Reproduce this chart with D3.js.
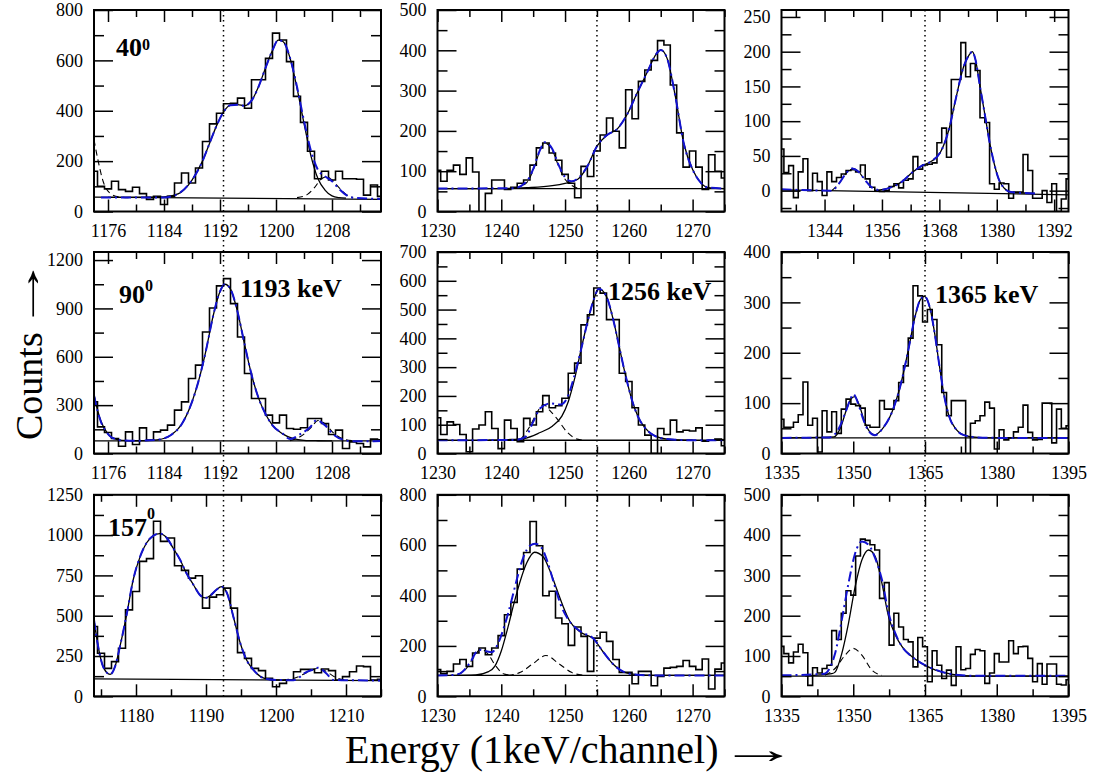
<!DOCTYPE html>
<html>
<head>
<meta charset="utf-8">
<script src="https://cdn.jsdelivr.net/npm/d3@7"></script>
<style>
  body { margin: 0; background: #fff; }
  text { font-family: "Liberation Serif", "Times New Roman", serif; }
</style>
</head>
<body>
<svg id="chart" width="1096" height="773"></svg>
<script>
// ---- counts per channel (first channel given by the panel's start) ----
let h40_1193 = [160,100,90,120,87,80,96,71,48,60, 28,60,113,153,113,173,278,348,390,428,
                430,450,410,523,523,608,708,681,595,457, 354,239,130,160,125,160,130,130,128,65, 105,60];
let h40_1256 = [102,75,102,115,92,133,98,-10,45,78, 78,55,60,70,78,115,158,170,145,127,
                92,70,34,112,87,150,190,232,199,158, 302,230,323,351,375,424,413,314,195,110, 150,110,55,141,100,83];
let h40_1365 = [60,26,36,-10,27,46,0,25,13,-7, 27,13,19,24,29,30,27,37,17,5,
                0,-1,0,6,10,4,15,17,49,31, 37,38,40,69,90,48,160,160,213,164,
                183,173,105,98,10,2,11,10,-11,-2, -2,52,29,-11,-11,0,-17,10,-30,-12, 17];
let h90_1193 = [320,165,130,93,45,134,56,159,83,134, 145,176,269,320,465,548,754,903,1040,1085,
                930,723,496,341,341,238,190,238,155,150, 160,217,217,186,118,145,31,72,62,41, 89,85];
let h90_1256 = [124,66,110,101,66,6,85,99,145,87, 17,116,87,41,122,99,145,201,159,166,
                192,279,314,447,482,575,557,465,465,279, 250,159,99,64,0,87,66,116,75,81, 78,89,43,46,50,27];
let h90_1365 = [68,52,52,62,77,142,56,70,3,85, 43,83,40,88,108,98,95,90,56,52,
                52,105,88,88,105,141,174,229,333,313, 261,286,266,216,121,75,105,105,105,-5,
                60,65,75,102,90,9,47,27,31,43, 52,96,42,27,28,100,100,21,88,50, 55];
let h157_1193 = [433,267,173,215,298,536,650,837,854,1086, 961,982,810,781,733,748,547,615,630,671,
                 547,271,235,173,159,111,59,80,101,152, 167,167,146,169,159,101,122,152,188,184, 101,105];
let h157_1256 = [106,90,99,128,146,119,172,192,165,192, 241,324,373,505,571,694,598,399,417,311,
                 288,202,275,238,99,231,254,218,146,95, 95,50,99,99,42,79,112,115,119,142, 119,106,148,29,108,132];
let h157_1365 = [124,106,83,110,129,108,27,71,58,69, 77,163,141,206,262,251,348,390,387,376,
                 363,243,282,127,206,172,141,135,73,146, 123,36,113,77,44,65,27,123,66,69,
                 104,116,113,32,58,106,85,85,138,106, 123,124,94,36,81,30,80,80,30,28, 41];

// ---- fitted curves: [channel, counts] ----
let f40_1193 = [[1176,56],[1184,58],[1186,70],[1188,125],[1189.5,200],[1190.5,270],[1191.5,340],[1192.5,395],[1193.5,422],
                [1194.5,424],[1195.5,420],[1196.5,440],[1197.5,495],[1198.5,570],[1199.5,640],[1200.3,680],[1201,675],
                [1202,610],[1203,490],[1204,350],[1205,220],[1206,130],[1207,85],[1208,62],[1209,55],[1210,53]];
let b40_1193 = [[1175,56],[1184,56],[1186,70],[1188,125],[1189.5,200],[1190.5,270],[1191.5,340],[1192.5,395],[1193.5,422],
                [1194.5,424],[1195.5,420],[1196.5,440],[1197.5,495],[1198.5,570],[1199.5,640],[1200.3,680],[1201,675],
                [1202,610],[1203,495],[1204,360],[1205,240],[1206,165],[1207,140],[1208,120],[1209,90],[1210,66],[1211,55],[1215,50]];
let d40_1193 = [[[1174,285],[1174.6,200],[1175.3,120],[1176.2,75],[1177.5,58],[1179,55]],
                [[1203,55],[1204.5,68],[1205.5,95],[1206.5,130],[1207.2,138],[1208,125],[1209,95],[1210,68],[1211,55]]];
let bg40_1193 = [[1174,57],[1215,48]];

let f40_1256 = [[1230,57],[1240,57],[1244,59],[1248,64],[1250,70],[1252,80],[1253.5,112],[1255,162],[1256.6,190],[1258.2,205],
                [1259.7,240],[1261.3,294],[1262.8,343],[1264.4,393],[1265,401],[1266,380],[1267.3,285],[1268.6,170],[1270,104],
                [1271.3,71],[1272.3,60],[1275,57]];
let b40_1256 = [[1230,57],[1242,58],[1244,75],[1245,105],[1246,150],[1246.8,172],[1248,155],[1249,115],[1250,85],[1251,75],
                [1252,82],[1253.5,112],[1255,162],[1256.6,190],[1258.2,205],[1259.7,240],[1261.3,294],[1262.8,343],[1264.4,393],
                [1265,401],[1266,380],[1267.3,285],[1268.6,170],[1270,104],[1271.3,71],[1272.3,60],[1275,57]];
let d40_1256 = [[[1242,57],[1244,72],[1245,102],[1246,148],[1246.8,170],[1248,152],[1249,112],[1250,80],[1252,58]]];
let bg40_1256 = [[1230,57],[1275,57]];

let f40_1365 = [[1354.6,0],[1358,5],[1360.2,13],[1362.3,26],[1364.4,36],[1366.5,43],[1368.2,55],[1370,88],[1371.4,131],
                [1373.1,179],[1374.2,195],[1374.9,200],[1375.5,190],[1376.5,150],[1377.5,110],[1378.5,70],[1379.5,38],
                [1380.5,15],[1381.5,4],[1383,-2],[1388,-4]];
let b40_1365 = [[1335,2],[1345.5,0],[1347,10],[1348.5,25],[1349.8,32],[1351,28],[1352.5,15],[1354,4],[1355.5,1],[1358,5],
                [1360.2,13],[1362.3,26],[1364.4,36],[1366.5,43],[1368.2,55],[1370,88],[1371.4,131],[1373.1,179],[1374.2,195],
                [1374.9,200],[1375.5,190],[1376.5,150],[1377.5,110],[1378.5,70],[1379.5,38],[1380.5,15],[1381.5,4],[1383,-2],[1388,-4]];
let d40_1365 = [[[1345.5,0],[1347,10],[1348.5,25],[1349.8,32],[1351,28],[1352.5,15],[1354,3]]];
let bg40_1365 = [[1335,1],[1395,-6]];

let f90_1193 = [[1174,365],[1174.5,270],[1175,200],[1175.7,140],[1176.5,100],[1178,82],[1180,79],[1183,85],[1185,115],
                [1186.5,180],[1188,320],[1189,460],[1190,640],[1191,850],[1192,1005],[1192.7,1050],[1193.5,1020],[1194.5,880],
                [1195.5,680],[1196.5,490],[1197.5,345],[1198.5,245],[1199.5,175],[1201,120],[1202.5,92],[1204,82],[1206,79],[1208,78]];
let b90_1193 = [[1174,360],[1174.5,265],[1175,195],[1175.7,138],[1176.5,100],[1178,82],[1180,79],[1183,85],[1185,115],
                [1186.5,180],[1188,320],[1189,460],[1190,640],[1191,850],[1192,1005],[1192.7,1050],[1193.5,1020],[1194.5,880],
                [1195.5,680],[1196.5,490],[1197.5,345],[1198.5,245],[1199.5,175],[1201,122],[1202,90],[1203.4,118],[1204.9,165],
                [1205.8,207],[1207,175],[1208.2,118],[1209.6,85],[1211,76],[1215,77]];
let d90_1193 = [[[1202,80],[1203.5,105],[1205,160],[1206,205],[1207,185],[1208.2,128],[1209.6,90],[1211,79]]];
let bg90_1193 = [[1174,78],[1215,78]];

let f90_1256 = [[1238,46],[1241,48],[1243.5,52],[1246,72],[1248,95],[1249.5,130],[1250.5,180],[1251.5,260],[1252.5,360],
                [1253.5,455],[1254.5,535],[1255.3,572],[1256.5,545],[1257.5,470],[1258.5,370],[1259.5,270],[1260.5,185],
                [1261.5,125],[1262.5,90],[1264,62],[1266,50],[1270,46]];
let b90_1256 = [[1230,46],[1242,47],[1243.8,58],[1245,110],[1246.1,157],[1247.7,174],[1249.3,170],[1250.3,192],[1251.4,265],
                [1252.5,360],[1253.5,455],[1254.5,535],[1255.3,572],[1256.5,545],[1257.5,470],[1258.5,370],[1259.5,270],
                [1260.5,185],[1261.5,125],[1262.5,90],[1264,62],[1266,50],[1270,46],[1275,46]];
let d90_1256 = [[[1243,48],[1244.5,95],[1245.8,150],[1246.6,170],[1247.6,150],[1248.7,122],[1250.3,75],[1251.9,50],[1253,46]]];
let bg90_1256 = [[1230,46],[1275,46]];

let f90_1365 = [[1335,31],[1346,33],[1347.5,55],[1348.5,85],[1349.5,108],[1350.3,113],[1351.3,95],[1352.3,65],[1353.3,45],
                [1354.5,37],[1356,48],[1358,80],[1360,140],[1361.5,205],[1363,275],[1364,305],[1364.9,312],[1366,290],
                [1367,240],[1368,175],[1369,115],[1370,75],[1371.5,48],[1373,37],[1376,32],[1380,31],[1395,31]];
let b90_1365 = [[1335,31],[1345,32],[1347,50],[1348.5,85],[1349.5,110],[1350,118],[1351,100],[1352,70],[1353,48],
                [1354.5,36],[1356,48],[1358,80],[1360,140],[1361.5,205],[1363,275],[1364,305],[1364.9,312],[1366,290],
                [1367,240],[1368,175],[1369,115],[1370,75],[1371.5,48],[1373,37],[1376,32],[1380,31],[1395,31]];
let d90_1365 = [];
let bg90_1365 = [[1335,31],[1395,31]];

let f157_1193 = [[1174,474],[1174.6,308],[1175.3,184],[1176.3,136],[1177,184],[1177.7,308],[1178.7,515],[1179.6,723],
                 [1180.6,868],[1181.5,951],[1182.5,997],[1183.4,1009],[1184.4,982],[1185.3,920],[1186.3,847],[1187.2,764],
                 [1188.2,692],[1189.1,630],[1189.9,610],[1190.6,625],[1191.5,661],[1192.2,680],[1193,640],[1193.9,495],
                 [1194.9,329],[1195.8,225],[1196.8,163],[1197.7,125],[1198.7,107],[1200.1,101],[1202,100]];
let b157_1193 = [[1174,474],[1174.6,308],[1175.3,184],[1176.3,136],[1177,184],[1177.7,308],[1178.7,515],[1179.6,723],
                 [1180.6,868],[1181.5,951],[1182.5,997],[1183.4,1009],[1184.4,982],[1185.3,920],[1186.3,847],[1187.2,764],
                 [1188.2,692],[1189.1,630],[1189.9,610],[1190.6,625],[1191.5,661],[1192.2,680],[1193,640],[1193.9,495],
                 [1194.9,329],[1195.8,225],[1196.8,163],[1197.7,125],[1198.7,107],[1200.1,101],[1202.5,100],[1204.4,152],
                 [1205.3,165],[1206,177],[1207.2,142],[1208.2,101],[1210,100],[1215,97]];
let d157_1193 = [[[1201,100],[1203,118],[1204.5,150],[1205.8,172],[1207,158],[1208.5,118],[1210,100]]];
let bg157_1193 = [[1174,108],[1215,97]];

let f157_1256 = [[1232,83],[1236,85],[1238,98],[1239,120],[1240,180],[1241,270],[1242,370],[1243,460],[1244,530],
                 [1245.2,572],[1246.6,553],[1247.6,500],[1248.7,425],[1249.7,357],[1250.7,300],[1252.4,255],[1254.5,227],
                 [1256.1,172],[1257.6,126],[1259.2,97],[1261.3,86],[1264,83],[1275,83]];
let b157_1256 = [[1230,83],[1232,84],[1233.5,90],[1235,130],[1236.5,185],[1237.5,180],[1238.5,175],[1239.5,210],[1240.5,280],
                 [1241.5,370],[1242.5,470],[1243.5,555],[1244.5,598],[1245.3,606],[1246.3,590],[1247.3,530],[1248.3,445],
                 [1249.3,365],[1250.5,305],[1252.4,258],[1254.5,228],[1256.1,172],[1257.6,126],[1259.2,97],[1261.3,86],[1264,83],[1275,83]];
let d157_1256 = [[[1233,83],[1234.5,110],[1235.8,160],[1236.8,188],[1238,165],[1239,125],[1240.5,88],[1242,83]],
                 [[1241,83],[1243,95],[1245,130],[1247,162],[1249,130],[1251,95],[1253,83]]];
let bg157_1256 = [[1230,83],[1275,83]];

let f157_1365 = [[1340,50],[1343,53],[1345.5,56],[1346.2,60],[1347.6,106],[1349,181],[1350.4,272],[1351.8,338],[1353.2,363],
                 [1354.6,347],[1356,280],[1357.4,197],[1358.8,152],[1360.2,123],[1362.3,98],[1364.4,81],[1367.2,65],
                 [1370,56],[1372.8,51],[1376,50],[1395,50]];
let b157_1365 = [[1335,52],[1344,56],[1345.5,81],[1346.2,106],[1347.6,189],[1349,280],[1350.4,355],[1351.8,384],[1353.2,376],
                 [1354.6,342],[1356,289],[1357.4,206],[1358.8,156],[1360.2,123],[1362.3,98],[1364.4,81],[1367.2,66],
                 [1370,56],[1372.8,52],[1376,51],[1395,51]];
let d157_1365 = [[[1344.1,52],[1346.2,69],[1348.3,102],[1350,119],[1351.8,102],[1353.9,65],[1356,52]]];
let bg157_1365 = [[1335,50],[1395,50]];

// ---- tick labels ----
let xt1193a = [1176, 1184, 1192, 1200, 1208];
let xt1193b = [1180, 1190, 1200, 1210];
let xt1256 = [1230, 1240, 1250, 1260, 1270];
let xt1365a = [1344, 1356, 1368, 1380, 1392];
let xt1365b = [1335, 1350, 1365, 1380, 1395];
let yt40_1193 = [0, 200, 400, 600, 800];
let yt40_1256 = [0, 100, 200, 300, 400, 500];
let yt40_1365 = [0, 50, 100, 150, 200, 250];
let yt90_1193 = [0, 300, 600, 900, 1200];
let yt90_1256 = [0, 100, 200, 300, 400, 500, 600, 700];
let yt90_1365 = [0, 100, 200, 300, 400];
let yt157_1193 = [0, 250, 500, 750, 1000, 1250];
let yt157_1256 = [0, 200, 400, 600, 800];
let yt157_1365 = [0, 100, 200, 300, 400, 500];

let angles = ["40", "90", "157"];
let energies = ["1193 keV", "1256 keV", "1365 keV"];
let markCh = [1192.5, 1255, 1365];

let panels = [
  {row:0, col:0, xd:[1174,1215], yd:[0,800],    start:1174, hist:h40_1193,  fit:f40_1193,  blue:b40_1193,  comps:d40_1193,  bg:bg40_1193,  xt:xt1193a, xm:4,   yt:yt40_1193,  ym:100},
  {row:0, col:1, xd:[1230,1275], yd:[0,500],    start:1230, hist:h40_1256,  fit:f40_1256,  blue:b40_1256,  comps:d40_1256,  bg:bg40_1256,  xt:xt1256,  xm:5,   yt:yt40_1256,  ym:50},
  {row:0, col:2, xd:[1335,1395], yd:[-30,260],  start:1335, hist:h40_1365,  fit:f40_1365,  blue:b40_1365,  comps:d40_1365,  bg:bg40_1365,  xt:xt1365a, xm:6,   yt:yt40_1365,  ym:25},
  {row:1, col:0, xd:[1174,1215], yd:[0,1250],   start:1174, hist:h90_1193,  fit:f90_1193,  blue:b90_1193,  comps:d90_1193,  bg:bg90_1193,  xt:xt1193a, xm:4,   yt:yt90_1193,  ym:150},
  {row:1, col:1, xd:[1230,1275], yd:[0,700],    start:1230, hist:h90_1256,  fit:f90_1256,  blue:b90_1256,  comps:d90_1256,  bg:bg90_1256,  xt:xt1256,  xm:5,   yt:yt90_1256,  ym:50},
  {row:1, col:2, xd:[1335,1395], yd:[0,400],    start:1335, hist:h90_1365,  fit:f90_1365,  blue:b90_1365,  comps:d90_1365,  bg:bg90_1365,  xt:xt1365b, xm:7.5, yt:yt90_1365,  ym:50},
  {row:2, col:0, xd:[1174,1215], yd:[0,1250],   start:1174, hist:h157_1193, fit:f157_1193, blue:b157_1193, comps:d157_1193, bg:bg157_1193, xt:xt1193b, xm:5,   yt:yt157_1193, ym:125},
  {row:2, col:1, xd:[1230,1275], yd:[0,800],    start:1230, hist:h157_1256, fit:f157_1256, blue:b157_1256, comps:d157_1256, bg:bg157_1256, xt:xt1256,  xm:5,   yt:yt157_1256, ym:100},
  {row:2, col:2, xd:[1335,1395], yd:[0,500],    start:1335, hist:h157_1365, fit:f157_1365, blue:b157_1365, comps:d157_1365, bg:bg157_1365, xt:xt1365b, xm:7.5, yt:yt157_1365, ym:50}
];

let colX = [94, 437.5, 781.5],
    rowY = [10, 252, 494.8],
    pw = 287, ph = 201.5;

let svg = d3.select("#chart");

function minors(dom, step, majors) {
  return d3.range(Math.ceil(dom[0] / step - 1e-9) * step, dom[1] + 1e-9, step)
           .filter(function(v) { return !majors.some(function(m) { return Math.abs(m - v) < 1e-6; }); });
}

function styleAxis(g) {
  g.select(".domain").remove();
  g.selectAll(".tick line").attr("stroke", "#000").attr("stroke-width", 1.5);
  g.attr("font-family", "Liberation Serif, Times New Roman, serif").attr("font-size", 18);
  g.selectAll(".tick text").attr("fill", "#000");
}

let xScales = [];

panels.forEach(function(p, i) {
  let g = svg.append("g")
             .attr("transform", "translate(" + colX[p.col] + "," + rowY[p.row] + ")");
  let x = d3.scaleLinear().domain(p.xd).range([0, pw]);
  let y = d3.scaleLinear().domain(p.yd).range([ph, 0]);
  if (p.row == 0) xScales[p.col] = x;

  g.append("clipPath").attr("id", "clip" + i)
   .append("rect").attr("width", pw).attr("height", ph);
  let inner = g.append("g").attr("clip-path", "url(#clip" + i + ")");

  let line = d3.line().x(function(d) { return x(d[0]); }).y(function(d) { return y(d[1]); });
  let smooth = d3.line().x(function(d) { return x(d[0]); }).y(function(d) { return y(d[1]); })
                 .curve(d3.curveMonotoneX);

  // histogram
  let pts = [];
  p.hist.forEach(function(v, k) {
    let c = p.start + k;
    pts.push([Math.max(c - 0.5, p.xd[0]), v], [Math.min(c + 0.5, p.xd[1]), v]);
  });
  inner.append("path").attr("d", line(pts))
       .attr("fill", "none").attr("stroke", "#000").attr("stroke-width", 1.6);

  // background
  inner.append("path").attr("d", line(p.bg))
       .attr("fill", "none").attr("stroke", "#000").attr("stroke-width", 1.3);

  // total fit
  inner.append("path").attr("d", smooth(p.fit))
       .attr("fill", "none").attr("stroke", "#000").attr("stroke-width", 1.3);

  // components
  p.comps.forEach(function(c) {
    inner.append("path").attr("d", smooth(c))
         .attr("fill", "none").attr("stroke", "#000").attr("stroke-width", 1.1)
         .attr("stroke-dasharray", "6,4");
  });

  // second fit
  inner.append("path").attr("d", smooth(p.blue))
       .attr("fill", "none").attr("stroke", "#1212d0").attr("stroke-width", 2)
       .attr("stroke-dasharray", "10,4,2,4");

  // axes with inward ticks on all four sides
  let xMin = minors(p.xd, p.xm, p.xt), yMin = minors(p.yd, p.ym, p.yt);

  g.append("g").attr("transform", "translate(0," + ph + ")")
   .call(d3.axisBottom(x).tickValues(p.xt).tickSizeInner(-12).tickSizeOuter(0).tickPadding(13).tickFormat(d3.format("d")))
   .call(styleAxis);
  g.append("g").attr("transform", "translate(0," + ph + ")")
   .call(d3.axisBottom(x).tickValues(xMin).tickSizeInner(-7).tickSizeOuter(0).tickFormat(""))
   .call(styleAxis);
  g.append("g")
   .call(d3.axisTop(x).tickValues(p.xt).tickSizeInner(-12).tickSizeOuter(0).tickFormat(""))
   .call(styleAxis);
  g.append("g")
   .call(d3.axisTop(x).tickValues(xMin).tickSizeInner(-7).tickSizeOuter(0).tickFormat(""))
   .call(styleAxis);

  g.append("g")
   .call(d3.axisLeft(y).tickValues(p.yt).tickSizeInner(-19).tickSizeOuter(0).tickPadding(11).tickFormat(d3.format("d")))
   .call(styleAxis);
  g.append("g")
   .call(d3.axisLeft(y).tickValues(yMin).tickSizeInner(-10).tickSizeOuter(0).tickFormat(""))
   .call(styleAxis);
  g.append("g").attr("transform", "translate(" + pw + ",0)")
   .call(d3.axisRight(y).tickValues(p.yt).tickSizeInner(-19).tickSizeOuter(0).tickFormat(""))
   .call(styleAxis);
  g.append("g").attr("transform", "translate(" + pw + ",0)")
   .call(d3.axisRight(y).tickValues(yMin).tickSizeInner(-10).tickSizeOuter(0).tickFormat(""))
   .call(styleAxis);

  g.append("rect").attr("width", pw).attr("height", ph)
   .attr("fill", "none").attr("stroke", "#000").attr("stroke-width", 2);
});

// dotted markers running through each column
markCh.forEach(function(ch, c) {
  let xx = colX[c] + xScales[c](ch);
  svg.append("line")
     .attr("x1", xx).attr("x2", xx)
     .attr("y1", rowY[0]).attr("y2", rowY[2] + ph)
     .attr("stroke", "#000").attr("stroke-width", 1.5)
     .attr("stroke-dasharray", "1.5,3.5");
});

// angle labels (left column)
let angPos = [[22, 46, -6], [25, 51, -12], [14, 41.5, -17]];
angles.forEach(function(a, r) {
  let t = svg.append("text")
             .attr("x", colX[0] + angPos[r][0]).attr("y", rowY[r] + angPos[r][1])
             .attr("font-size", 26).attr("font-weight", "bold")
             .text(a);
  t.append("tspan").attr("dy", angPos[r][2]).attr("font-size", 16).text("0");
});

// energy labels (middle row)
let enPos = [146, 170.5, 153.5];
let enY = [45, 48, 51];
energies.forEach(function(e, c) {
  svg.append("text")
     .attr("x", colX[c] + enPos[c]).attr("y", rowY[1] + enY[c])
     .attr("font-size", 26).attr("font-weight", "bold")
     .text(e);
});

// stretch an arrow glyph so that its ink covers a given length (ink measured on a canvas)
let ctx = document.createElement("canvas").getContext("2d");
function stretchArrow(t, size, len, sy) {
  ctx.font = size + 'px "Liberation Serif", "Times New Roman", serif';
  let m = ctx.measureText("\u2192");
  let inkL = -m.actualBoundingBoxLeft, inkR = m.actualBoundingBoxRight;
  if (!(inkR - inkL > 1)) { inkL = 0; inkR = t.node().getComputedTextLength(); }
  let s = len / (inkR - inkL);
  t.attr("transform", "translate(" + (-inkL * s) + ",0) scale(" + s + "," + sy + ")");
}

// axis titles
svg.append("text")
   .attr("x", 345).attr("y", 763)
   .attr("font-size", 40)
   .text("Energy (1keV/channel)");
let ax = svg.append("g").attr("transform", "translate(733,763)")
            .append("text").attr("font-size", 34).text("\u2192");
stretchArrow(ax, 34, 52, 1.2);

svg.append("text")
   .attr("transform", "translate(42,440) rotate(-90)")
   .attr("font-size", 38)
   .text("Counts");
let ay = svg.append("g").attr("transform", "translate(40,318) rotate(-90)")
            .append("text").attr("font-size", 34).text("\u2192");
stretchArrow(ay, 34, 50, 1.2);
</script>
</body>
</html>
